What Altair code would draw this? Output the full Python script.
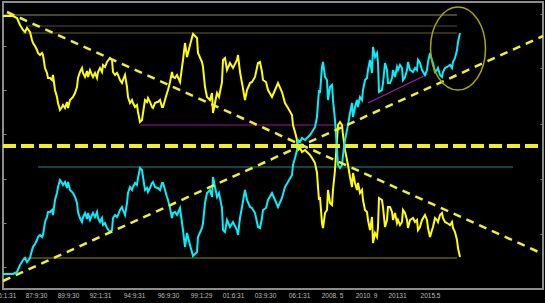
import altair as alt
import pandas as pd

# ---- main series (bar index, value); the cyan series is its inverse ----
yellow_idx = [0, 5, 10, 14, 17, 20, 22, 24, 27, 29, 30, 32, 34, 35, 37, 39, 40, 42, 44, 45, 47, 49, 50, 52, 54, 55, 57, 59, 60, 62, 64, 65, 67, 69, 70, 72, 74, 75, 77, 79, 80, 82, 84, 85, 87, 89, 90, 92, 94, 95, 97, 99, 100, 102, 104, 107, 109, 110, 112, 114, 115, 117, 119, 120, 122, 124, 125, 127, 129, 130, 132, 134, 135, 137, 139, 140, 142, 144, 145, 147, 149, 150, 152, 154, 155, 157, 159, 160, 162, 164, 165, 167, 169, 170, 172, 174, 177,
              180, 182, 184, 187, 190, 194, 195, 199, 200, 202, 204, 207, 209, 210, 212, 214, 216, 219, 220, 222, 224, 227, 230, 234, 235, 237, 239, 242, 244, 247, 249, 252, 255, 257, 259, 260, 263, 265, 269, 272, 275, 279, 282, 285, 289, 290, 292, 294, 295, 297, 299, 302, 305, 307, 309, 312, 314, 315, 316, 317, 319, 320, 322, 324, 325, 327, 329, 330, 332, 334, 335, 337, 339, 340, 342, 344, 345, 347, 349, 350, 352, 354, 355, 357, 359, 360, 362, 364, 365, 367, 369, 370, 372, 374, 375, 376, 379, 380, 382, 384, 385, 387, 389, 390, 392, 394, 395, 397, 399, 400, 402, 404, 405, 407, 410, 412, 414, 415, 417, 419, 422, 424, 425, 427, 429, 430, 432, 434, 435, 437, 439, 440, 442, 444, 447, 449, 450, 452, 454, 455, 457]
yellow_val = [129, 129, 129, 127, 120, 115, 113, 117, 113, 105, 102, 99, 95, 92, 90, 92, 90, 77, 72, 67, 67, 65, 70, 55, 48, 42, 35, 38, 40, 37, 43, 37, 45, 47, 48, 52, 58, 67, 73, 77, 72, 68, 74, 68, 75, 70, 68, 72, 67, 73, 77, 73, 80, 78, 83, 87, 85, 73, 70, 72, 70, 65, 62, 65, 70, 58, 48, 42, 45, 42, 38, 40, 33, 23, 25, 32, 45, 43, 47, 43, 38, 37, 42, 43, 43, 45, 38, 38, 45, 52, 55, 63, 73, 68, 67, 70, 63,
              85, 102, 88, 100, 111, 107, 92, 83, 78, 58, 48, 45, 52, 32, 42, 52, 48, 63, 85, 87, 75, 82, 77, 85, 90, 73, 62, 45, 55, 62, 63, 68, 82, 83, 73, 65, 63, 55, 48, 55, 62, 53, 42, 37, 30, 20, 13, 5, -5, -3, -7, -5, -8, -10, -13, -18, -28, -42, -55, -52, -78, -83, -68, -65, -45, -58, -60, -45, -25, 5, 20, 23, 20, 10, -5, -15, -20, -32, -42, -28, -38, -45, -38, -48, -45, -55, -65, -67, -75, -85, -72, -98, -88, -92, -82, -53, -55, -62, -82, -75, -62, -62, -67, -75, -68, -78, -75, -80, -77, -65, -68, -75, -83, -75, -73, -77, -75, -85, -82, -75, -70, -75, -83, -92, -85, -82, -73, -75, -77, -70, -68, -73, -77, -78, -80, -77, -83, -87, -95, -103, -112]

# ---- x axis tick labels ----
tick_idx = [2, 33, 65, 97, 131, 165, 198, 230, 262, 296, 329, 363, 394, 427]
tick_labels = ["86:1:31", "87:9:30", "89:9:30", "92:1:31", "94:9:31", "96:9:30", "99:1:29",
               "01:6:31", "03:9:30", "06:1:31", "2008. 5", "2010. 9", "20131", "2015.5"]

left_ticks = [-122, -78, -34, 11, 55, 99]
right_ticks = [131, 77, 21, -34, -89]

# ---- horizontal support / resistance levels ----
level_y = [130, 119, 112, 20, -22, -113]
level_x0 = [0, 23, 19, 137, 35, 20]
level_x1 = [454, 454, 454, 347, 510, 454]
level_color = ["#8e8e72", "#4e4e40", "#62621e", "#9c189c", "#1c8c8c", "#8c8c00"]

# ---- short magenta trend segment ----
seg_x0, seg_x1, seg_y0, seg_y1 = [365], [425], [42], [71]

# ---- dashed diagonal trend lines ----
diag_x0 = [4, 0]
diag_x1 = [540, 540]
diag_y0 = [133, -136]
diag_y1 = [-109, 109]

center_level = [-1]
ellipse_x, ellipse_y = [455], [96.5]

X = alt.Scale(domain=[0, 540], nice=False, zero=False)
Y = alt.Scale(domain=[-144, 143], nice=False, zero=False)

series = pd.DataFrame({"idx": yellow_idx, "val": yellow_val})
levels = pd.DataFrame({"y": level_y, "x0": level_x0, "x1": level_x1, "c": level_color})
seg = pd.DataFrame({"x0": seg_x0, "x1": seg_x1, "y0": seg_y0, "y1": seg_y1})
diags = pd.DataFrame({"x0": diag_x0, "x1": diag_x1, "y0": diag_y0, "y1": diag_y1})
center = pd.DataFrame({"y": center_level, "x0": [0], "x1": [540]})
ell = pd.DataFrame({"x": ellipse_x, "y": ellipse_y})

label_expr = "[" + ",".join("'%s'" % t for t in tick_labels) + "][indexof([" + \
    ",".join(str(v) for v in tick_idx) + "], datum.value)]"

left_axis = alt.Axis(orient="left", values=left_ticks, labels=False, domain=False, grid=False,
                     ticks=True, tickSize=3, tickColor="#8a8a8a", offset=-3, title=None)
right_axis = alt.Axis(orient="right", values=right_ticks, labels=False, domain=False, grid=False,
                      ticks=True, tickSize=3, tickColor="#8a8a8a", offset=-3, title=None)
x_axis = alt.Axis(values=tick_idx, labelExpr=label_expr, ticks=False, domain=False, grid=False,
                  labelFont="Liberation Sans", labelFontSize=6.5, labelColor="#bdbdbd",
                  labelPadding=3, labelOverlap=False, labelBound=False, labelFlush=False, title=None)

lv = alt.Chart(levels).mark_rule(strokeWidth=1.2).encode(
    x=alt.X("x0:Q", scale=X, axis=None), x2="x1:Q",
    y=alt.Y("y:Q", scale=Y, axis=left_axis),
    color=alt.Color("c:N", scale=None))

sg = alt.Chart(seg).mark_rule(strokeWidth=1.2, color="#a020a0").encode(
    x=alt.X("x0:Q", scale=X, axis=None), x2="x1:Q",
    y=alt.Y("y0:Q", scale=Y, axis=None), y2="y1:Q")

yl = alt.Chart(series).mark_line(color="#ffff00", strokeWidth=2).encode(
    x=alt.X("idx:Q", scale=X, axis=x_axis),
    y=alt.Y("val:Q", scale=Y, axis=None))

cy = alt.Chart(series).transform_calculate(inv="-datum.val").mark_line(
    color="#00f0ff", strokeWidth=2).encode(
    x=alt.X("idx:Q", scale=X, axis=None),
    y=alt.Y("inv:Q", scale=Y, axis=None))

dg = alt.Chart(diags).mark_rule(color="#f0f030", strokeWidth=2.5, strokeDash=[8, 6]).encode(
    x=alt.X("x0:Q", scale=X, axis=None), x2="x1:Q",
    y=alt.Y("y0:Q", scale=Y, axis=None), y2="y1:Q")

ct = alt.Chart(center).mark_rule(color="#f0f020", strokeWidth=4, strokeDash=[13, 5]).encode(
    x=alt.X("x0:Q", scale=X, axis=None), x2="x1:Q",
    y=alt.Y("y:Q", scale=Y, axis=right_axis))

ellipse_path = ("M 0.663 0 C 0.663 0.552 0.366 1 0 1 C -0.366 1 -0.663 0.552 -0.663 0 "
                "C -0.663 -0.552 -0.366 -1 0 -1 C 0.366 -1 0.663 -0.552 0.663 0 Z")
el = alt.Chart(ell).mark_point(shape=ellipse_path, size=83 * 83, filled=False,
                               color="#a8a800", strokeWidth=1.5, opacity=1).encode(
    x=alt.X("x:Q", scale=X, axis=None),
    y=alt.Y("y:Q", scale=Y, axis=None))

chart = alt.layer(lv, sg, yl, cy, dg, ct, el).resolve_axis(
    x="independent", y="independent"
).properties(
    width=540, height=287,
    padding={"left": 3, "top": 2, "right": 2, "bottom": 14},
    autosize=alt.AutoSizeParams(type="none"),
    background="black",
).configure_view(stroke="#8c8c8c", strokeWidth=2, fill="black")

chart.save("out.html", embed_options={"renderer": "svg", "actions": False})
